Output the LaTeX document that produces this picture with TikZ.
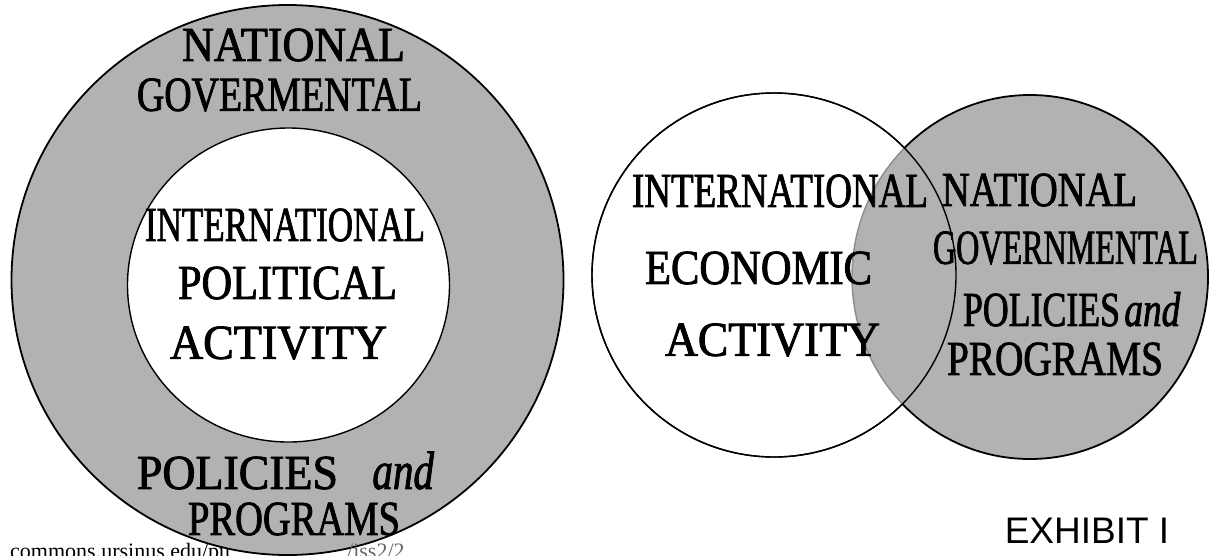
\documentclass[tikz,border=0pt]{standalone}
\usepackage{fontspec}
\setmainfont{Liberation Serif}
\newfontfamily\handfont[FakeStretch=0.76,FakeBold=1.5]{Liberation Serif}
\newfontfamily\exhibitfont{Liberation Sans}
\usetikzlibrary{positioning}

\definecolor{screen}{gray}{0.7}

% hand lettering, each word drawn to a given width
\newcommand{\word}[2]{\resizebox{#1pt}{\height}{#2}}

\tikzset{
  lettering/.style={font=\handfont\fontsize{49}{49}\selectfont, inner sep=0pt},
  shaded/.style={fill=screen, draw=black, line width=1.8pt},
  plain/.style={fill=white, draw=black, line width=1.4pt},
  source/.style={font=\fontsize{22}{22}\selectfont, anchor=base west, inner sep=0pt},
}

\begin{document}
\begin{tikzpicture}[x=1pt,y=-1pt]
  \useasboundingbox (0,0) rectangle (1210,555);
  \clip (0,0) rectangle (1210,555);

  \node[source] (url) at (10,558) {commons.ursinus.edu/pu};

  % national policies round the political activity
  \draw[shaded] (287.5,280) ellipse [x radius=276, y radius=275];
  \draw[plain] (288.5,285) ellipse [x radius=161, y radius=157];
  \node[source, text=black!60] (iss) at (347,558) {/iss2/2};

  \node[lettering] (natL) at (293.5,45) {\word{223}{NATIONAL}};
  \node[lettering] (govL) at (279.5,95) {\word{285}{GOVERMENTAL}};
  \node[lettering] (intL) at (285,225) {\word{280}{INTERNATIONAL}};
  \node[lettering] (polL) at (287.5,283) {\word{219}{POLITICAL}};
  \node[lettering] (actL) at (278.5,343) {\word{217}{ACTIVITY}};
  \node[lettering] (poliL) at (237.5,473) {\word{201}{POLICIES}};
  \node[lettering, base right=34pt of poliL] (andL) {\fontsize{54}{54}\selectfont\textit{and}};
  \node[lettering] (progL) at (294,519) {\word{212}{PROGRAMS}};

  % economic activity against national policies
  \draw[plain] (774,275) circle [radius=182];
  \fill[screen] (1030,277) ellipse [x radius=178, y radius=182];
  \begin{scope}
    \clip (774,275) circle [radius=182];
    \draw[black!45, line width=1.4pt] (1030,277) ellipse [x radius=178, y radius=182];
  \end{scope}
  \draw[line width=1.4pt] (774,275) circle [radius=182];
  \begin{scope}[even odd rule]
    \clip (774,275) circle [radius=182] (0,0) rectangle (1210,555);
    \draw[line width=1.8pt] (1030,277) ellipse [x radius=178, y radius=182];
  \end{scope}

  \node[lettering] (intR) at (780,191) {\word{296}{INTERNATIONAL}};
  \node[lettering] (ecoR) at (758.5,268) {\word{227}{ECONOMIC}};
  \node[lettering] (actR) at (772.5,340) {\word{215}{ACTIVITY}};
  \node[lettering] (natR) at (1039.5,190) {\word{195}{NATIONAL}};
  \node[lettering] (govR) at (1065.5,248) {\word{265}{GOVERNMENTAL}};
  \node[lettering] (poliR) at (1041.5,310) {\word{157}{POLICIES}};
  \node[lettering, base right=4pt of poliR] (andR) {\textit{and}};
  \node[lettering] (progR) at (1055,359) {\word{216}{PROGRAMS}};

  \node[font=\exhibitfont\fontsize{37}{37}\selectfont, inner sep=0pt] (exhibit) at (1087,531) {EXHIBIT I};
\end{tikzpicture}
\end{document}
